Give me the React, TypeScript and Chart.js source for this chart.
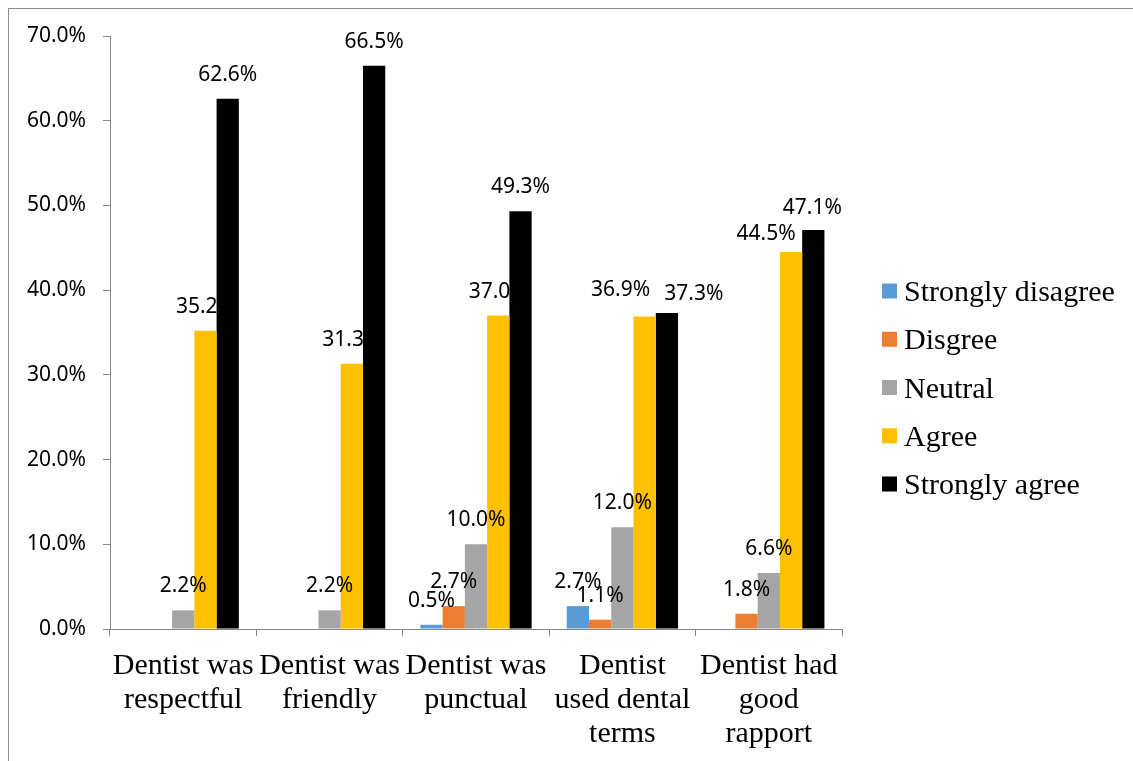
import React, { useEffect, useRef } from "react";
import { Chart, registerables } from "chart.js";

Chart.register(...registerables);

// ---- data ----
const categories: string[][] = [
  ["Dentist was", "respectful"],
  ["Dentist was", "friendly"],
  ["Dentist was", "punctual"],
  ["Dentist", "used dental", "terms"],
  ["Dentist had", "good", "rapport"],
];
const seriesNames = ["Strongly disagree", "Disgree", "Neutral", "Agree", "Strongly agree"];
const stronglyDisagree = [0, 0, 0.5, 2.7, 0];
const disagree = [0, 0, 2.7, 1.1, 1.8];
const neutral = [2.2, 2.2, 10.0, 12.0, 6.6];
const agree = [35.2, 31.3, 37.0, 36.9, 44.5];
const stronglyAgree = [62.6, 66.5, 49.3, 37.3, 47.1];
const yTickValues = [0, 10, 20, 30, 40, 50, 60, 70];

// ---- styles ----
const seriesColors = ["#5B9BD5", "#ED7D31", "#A5A5A5", "#FFC000", "#000000"];
const AXIS_COLOR = "#868686";
const SANS = "'Noto Sans', 'Liberation Sans', sans-serif";
const SERIF = "'Liberation Serif', 'Times New Roman', serif";
// manual label nudges (dx, dy) keyed by "series-category", as in the original
const LABEL_NUDGES: Record<string, [number, number]> = {
  "3-3": [-24, -2],
  "4-3": [27, 5],
  "3-4": [-25, 6],
  "4-4": [-1, 2],
};

const valueLabels = {
  id: "valueLabels",
  afterDatasetsDraw(chart: any) {
    const ctx = chart.ctx;
    ctx.save();
    ctx.font = `21px ${SANS}`;
    ctx.fillStyle = "#000";
    ctx.textAlign = "center";
    ctx.textBaseline = "middle";
    chart.data.datasets.forEach((ds: any, di: number) => {
      const meta = chart.getDatasetMeta(di);
      meta.data.forEach((bar: any, i: number) => {
        const v = ds.data[i];
        if (!v) return;
        const n = LABEL_NUDGES[`${di}-${i}`] || [0, 0];
        ctx.fillText(v.toFixed(1) + "%", bar.x + n[0], bar.y - 24 + n[1]);
      });
    });
    ctx.restore();
  },
};

const sideLegend = {
  id: "sideLegend",
  afterDraw(chart: any) {
    const ctx = chart.ctx;
    const x0 = chart.chartArea.right + 40;
    const yStart = 282;
    const step = 48.25;
    const box = 15;
    ctx.save();
    ctx.font = `30px ${SERIF}`;
    ctx.textAlign = "left";
    ctx.textBaseline = "alphabetic";
    chart.data.datasets.forEach((ds: any, i: number) => {
      const cy = yStart + i * step;
      ctx.fillStyle = ds.backgroundColor;
      ctx.fillRect(x0, cy - box / 2, box, box);
      ctx.fillStyle = "#000";
      ctx.fillText(ds.label, x0 + box + 7, cy + 10);
    });
    ctx.restore();
  },
};

export default function App() {
  const ref = useRef<HTMLCanvasElement | null>(null);

  useEffect(() => {
    if (!ref.current) return;
    const seriesValues = [stronglyDisagree, disagree, neutral, agree, stronglyAgree];
    const chart = new Chart(ref.current, {
      type: "bar",
      data: {
        labels: categories,
        datasets: seriesNames.map((name, i) => ({
          label: name,
          data: seriesValues[i],
          backgroundColor: seriesColors[i],
          borderWidth: 0,
          categoryPercentage: 0.76,
          barPercentage: 1.0,
        })),
      },
      options: {
        animation: false,
        responsive: false,
        devicePixelRatio: 1,
        layout: { padding: { top: 27, right: 291, bottom: 0, left: 0 } },
        plugins: {
          legend: { display: false },
          tooltip: { enabled: false },
        },
        scales: {
          x: {
            grid: {
              display: true,
              drawOnChartArea: false,
              drawTicks: true,
              tickLength: 7,
              color: AXIS_COLOR,
              offset: true,
            },
            border: { display: true, color: AXIS_COLOR, width: 1 },
            ticks: {
              autoSkip: false,
              maxRotation: 0,
              minRotation: 0,
              padding: 12.6,
              color: "#000",
              font: { family: SERIF, size: 30, lineHeight: 1.145 },
            },
            afterFit(scale: any) {
              scale.height = 132;
            },
          },
          y: {
            min: 0,
            max: 70,
            grid: {
              display: true,
              drawOnChartArea: false,
              drawTicks: true,
              tickLength: 7,
              color: AXIS_COLOR,
            },
            border: { display: true, color: AXIS_COLOR, width: 1 },
            ticks: {
              padding: 17,
              color: "#000",
              font: { family: SANS, size: 21 },
              callback: (v: any) => Number(v).toFixed(1) + "%",
            },
            afterBuildTicks(scale: any) {
              scale.ticks = yTickValues.map((v) => ({ value: v }));
            },
            afterFit(scale: any) {
              scale.width = 101;
              scale.paddingTop = 0;
              scale.paddingBottom = 0;
            },
          },
        },
      },
      plugins: [valueLabels, sideLegend],
    });
    return () => chart.destroy();
  }, []);

  return (
    <div
      style={{
        position: "fixed",
        left: 8,
        top: 8,
        width: 1125,
        height: 753,
        borderTop: "1px solid #8a8a8a",
        borderLeft: "1px solid #8a8a8a",
        boxSizing: "border-box",
        background: "#fff",
        overflow: "hidden",
      }}
    >
      <canvas ref={ref} width={1124} height={752} style={{ display: "block", width: 1124, height: 752 }} />
    </div>
  );
}
